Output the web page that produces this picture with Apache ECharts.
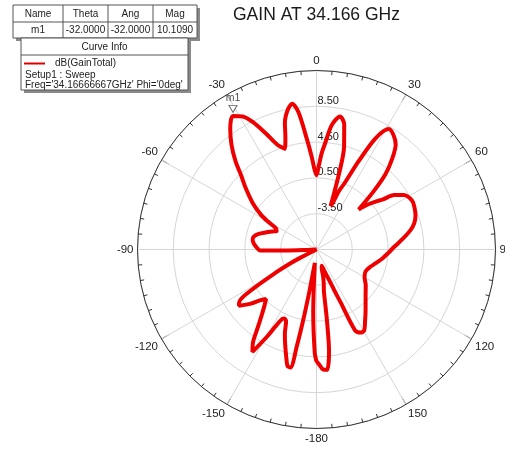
<!DOCTYPE html>
<html><head><meta charset="utf-8">
<script src="https://cdn.jsdelivr.net/npm/echarts@6/dist/echarts.min.js"></script>
<style>html,body{margin:0;padding:0;background:#fff}#c{width:505px;height:450px}</style>
</head><body><div id="c"></div>
<script>
// Theta (deg) and dB(GainTotal)
const thetaDeg = [-180,-179,-177,-175,-173,-171.5,-170.5,-169.5,-168.5,-167.5,-166,-164.5,-162,-159.5,-157,-155,-154,-152,-150.5,-148,-145.5,-143,-140,-137,-134.5,-132,-129.5,-126,-124.5,-122,-119.5,-118,-117,-115,-110,-105,-100,-95,-93,-92,-91,-88,-85,-82,-79,-75,-71,-68,-65.5,-62.5,-60,-58,-54,-49,-45.5,-42.5,-39,-35.5,-32,-29,-26.5,-23.5,-20.5,-17.5,-15.5,-14,-11.5,-9.5,-7.5,-5,-3,-1.5,0,1.5,3,4.5,7,10,12.5,15,16.5,18,19.5,21,23,25.5,28,31,34,37,40,42.5,44.5,46.5,48.5,51,53,55,58,63,67,71,75,78.5,83,88,93,98,103,108,114,120,126,133,138,142,146,149.5,152,154.5,155.5,156.5,158,160,162,164,166,168,170,171.5,173,175,177,178.5,180];
const gainDb = [5.0,4.0,-0.5,-4.5,-6.0,-5.0,-3.0,0.0,3.5,6.0,5.9,5.1,3.8,2.6,1.2,1.0,1.1,2.2,3.6,6.0,5.0,3.4,2.0,1.0,0.4,1.0,2.0,3.2,3.0,1.2,-2.3,-4.0,-5.5,-7.5,-7.5,-7.5,-7.5,-7.5,-6.5,-4.0,-1.2,-0.8,-0.5,-0.3,-0.3,-0.8,-1.6,-2.1,-2.6,-2.4,-1.2,-0.2,1.3,3.0,4.3,5.9,7.6,9.1,10.1,9.5,8.4,6.6,5.0,4.3,5.5,7.1,8.5,9.0,8.0,4.9,2.9,1.5,0.8,1.8,3.2,4.3,6.5,7.6,6.8,4.4,1.5,-2.4,-1.8,-0.5,0.6,3.4,6.6,8.2,7.9,7.2,5.6,3.9,1.6,-1.0,0.0,1.0,1.8,3.1,4.0,4.5,4.4,4.2,3.8,3.2,2.2,1.2,0.5,-0.1,-0.7,-1.2,-1.5,-1.3,-0.7,0.0,0.7,1.4,2.2,3.0,3.0,2.5,-1.0,-2.6,-4.1,-5.0,-5.6,-5.4,-4.5,-3.6,-2.7,0.2,4.0,6.0,5.9,5.4,5.0];
const radiusTicks = [-7.5,-3.5,0.5,4.5,8.5,12.5];
const angleTickStep = 30;
const markerName = 'm1';
const markerTheta = -32;
const markerMag = 10.109;
const tableHeaders = ['Name','Theta','Ang','Mag'];
const tableRow = ['m1','-32.0000','-32.0000','10.1090'];
const curveInfoTitle = 'Curve Info';
const curveInfoLines = ['dB(GainTotal)','Setup1 : Sweep',"Freq='34.16666667GHz' Phi='0deg'"];
const titleText = 'GAIN AT 34.166 GHz';

const FONT = 'Liberation Sans, Arial, sans-serif';
const toAng = t => ((t % 360) + 360) % 360;
const seriesData = thetaDeg.map((t, i) => [gainDb[i], t === 180 || t === -180 ? 180 : toAng(t)]);

// table graphics
const colX = [13, 63, 108, 153, 197];
const rowY = [5, 22, 38];
const g = [];
g.push({type:'rect', shape:{x:colX[0]+3, y:rowY[0]+3, width:colX[4]-colX[0], height:rowY[2]-rowY[0]}, style:{fill:'#8a8a8a'}, z:1});
g.push({type:'rect', shape:{x:21+3, y:38+3, width:167, height:52}, style:{fill:'#8a8a8a'}, z:1});
g.push({type:'rect', shape:{x:colX[0], y:rowY[0], width:colX[4]-colX[0], height:rowY[2]-rowY[0]}, style:{fill:'#fff', stroke:'#555', lineWidth:1}, z:2});
g.push({type:'line', shape:{x1:colX[0], y1:rowY[1], x2:colX[4], y2:rowY[1]}, style:{stroke:'#555', lineWidth:1}, z:3});
for (let i = 1; i < 4; i++) g.push({type:'line', shape:{x1:colX[i], y1:rowY[0], x2:colX[i], y2:rowY[2]}, style:{stroke:'#555', lineWidth:1}, z:3});
for (let i = 0; i < 4; i++) {
  g.push({type:'text', x:(colX[i]+colX[i+1])/2, y:(rowY[0]+rowY[1])/2+0.5, style:{text:tableHeaders[i], font:'10px '+FONT, fill:'#222', align:'center', verticalAlign:'middle'}, z:4});
  g.push({type:'text', x:(colX[i]+colX[i+1])/2, y:(rowY[1]+rowY[2])/2+0.5, style:{text:tableRow[i], font:'10px '+FONT, fill:'#222', align:'center', verticalAlign:'middle'}, z:4});
}
g.push({type:'rect', shape:{x:21, y:38, width:167, height:52}, style:{fill:'#fff', stroke:'#555', lineWidth:1}, z:2});
g.push({type:'line', shape:{x1:21, y1:55, x2:188, y2:55}, style:{stroke:'#555', lineWidth:1}, z:3});
g.push({type:'text', x:104.5, y:47, style:{text:curveInfoTitle, font:'10px '+FONT, fill:'#222', align:'center', verticalAlign:'middle'}, z:4});
g.push({type:'line', shape:{x1:24, y1:63.5, x2:45, y2:63.5}, style:{stroke:'#e00000', lineWidth:2}, z:4});
g.push({type:'text', x:55, y:63.5, style:{text:curveInfoLines[0], font:'10px '+FONT, fill:'#222', align:'left', verticalAlign:'middle'}, z:4});
g.push({type:'text', x:25, y:75.5, style:{text:curveInfoLines[1], font:'10px '+FONT, fill:'#222', align:'left', verticalAlign:'middle'}, z:4});
g.push({type:'text', x:25, y:85.5, style:{text:curveInfoLines[2], font:'10px '+FONT, fill:'#222', align:'left', verticalAlign:'middle'}, z:4});

const chart = echarts.init(document.getElementById('c'), null, {renderer:'canvas'});
chart.setOption({
  backgroundColor:'#fff',
  animation:false,
  title:{text:titleText, left:233, top:6, padding:0, textStyle:{fontFamily:FONT, fontSize:17.5, fontWeight:'normal', color:'#1a1a1a'}},
  polar:{center:[316.5,249.5], radius:179},
  angleAxis:{
    type:'value', min:0, max:360, interval:angleTickStep, startAngle:90, clockwise:true,
    axisLine:{lineStyle:{color:'#333', width:1}},
    axisTick:{inside:true, length:8, lineStyle:{color:'#333'}},
    minorTick:{show:true, splitNumber:6, length:4, lineStyle:{color:'#333'}},
    splitLine:{show:true, lineStyle:{color:'#d6d6d6', width:1}},
    axisLabel:{fontFamily:FONT, fontSize:11.5, color:'#222', margin:4,
      formatter: v => v === 180 ? '-180' : (v > 180 ? String(v - 360) : String(v))}
  },
  radiusAxis:{
    type:'value', min:radiusTicks[0], max:radiusTicks[radiusTicks.length-1], interval:radiusTicks[1]-radiusTicks[0],
    axisLine:{show:false}, axisTick:{show:false},
    splitLine:{show:true, lineStyle:{color:'#d6d6d6', width:1}},
    axisLabel:{fontFamily:FONT, fontSize:11, color:'#222', margin:-1, align:'left', verticalAlign:'bottom',
      formatter: v => (v === radiusTicks[0] || v === radiusTicks[radiusTicks.length-1]) ? '' : v.toFixed(2)}
  },
  series:[
    {type:'line', coordinateSystem:'polar', data:seriesData, showSymbol:false, smooth:0.3,
     lineStyle:{color:'#ee0000', width:4}, z:3},
    {type:'scatter', coordinateSystem:'polar', data:[[markerMag, toAng(markerTheta)]],
     symbol:'triangle', symbolRotate:180, symbolSize:[8,7], symbolOffset:[0,-7],
     itemStyle:{color:'#fff', borderColor:'#444', borderWidth:1},
     label:{show:true, formatter:markerName, position:'top', distance:1, fontFamily:FONT, fontSize:10.5, color:'#222'}, z:5}
  ],
  graphic:g
});
</script></body></html>
